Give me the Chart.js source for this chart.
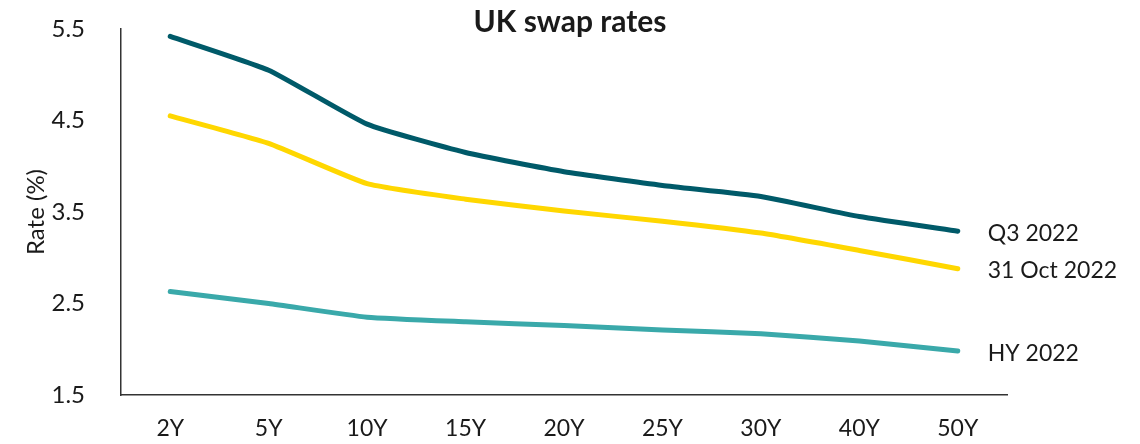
<!DOCTYPE html>
<html>
<head>
<meta charset="utf-8">
<script src="https://cdn.jsdelivr.net/npm/chart.js@4"></script>
<style>
  html, body { margin: 0; padding: 0; background: #fff; }
  #wrap { width: 1140px; height: 444px; }
</style>
</head>
<body>
<div id="wrap"><canvas id="swapChart" width="1140" height="444"></canvas></div>
<script>
// swap tenors and rates (%)
const tenors = ["2Y", "5Y", "10Y", "15Y", "20Y", "25Y", "30Y", "40Y", "50Y"];
const q3_2022 = [5.42, 5.05, 4.46, 4.15, 3.94, 3.79, 3.67, 3.45, 3.29];
const oct_2022 = [4.55, 4.25, 3.81, 3.64, 3.51, 3.40, 3.27, 3.08, 2.88];
const hy_2022 = [2.63, 2.50, 2.35, 2.30, 2.26, 2.21, 2.17, 2.09, 1.98];
const yTicks = [1.5, 2.5, 3.5, 4.5, 5.5];

const FONT = "Lato, 'Noto Sans', sans-serif";
const TEXT = "#1a1a1a";

// title in the middle of the canvas
const titlePlugin = {
  id: "swapTitle",
  afterDraw(chart) {
    const c = chart.ctx;
    c.save();
    c.font = "bold 30px " + FONT;
    c.fillStyle = TEXT;
    c.textAlign = "center";
    c.textBaseline = "alphabetic";
    c.fillText("UK swap rates", chart.width / 2, 32);
    c.restore();
  },
};

// series names next to the last point of each line
const endLabels = {
  id: "endLabels",
  afterDatasetsDraw(chart) {
    const c = chart.ctx;
    c.save();
    c.font = "23px " + FONT;
    c.fillStyle = TEXT;
    c.textAlign = "left";
    c.textBaseline = "middle";
    chart.data.datasets.forEach((ds, i) => {
      const pts = chart.getDatasetMeta(i).data;
      const last = pts[pts.length - 1];
      c.fillText(ds.label, last.x + 30, last.y + 2);
    });
    c.restore();
  },
};

function line(label, data, color) {
  return {
    label: label,
    data: data,
    borderColor: color,
    backgroundColor: color,
    borderWidth: 5,
    borderCapStyle: "round",
    borderJoinStyle: "round",
    pointRadius: 0,
    tension: 0.15,
    fill: false,
  };
}

const ctx = document.getElementById("swapChart").getContext("2d");
const swapChart = new Chart(ctx, {
  type: "line",
  data: {
    labels: tenors,
    datasets: [
      line("Q3 2022", q3_2022, "#005a69"),
      line("31 Oct 2022", oct_2022, "#ffd700"),
      line("HY 2022", hy_2022, "#3aa9aa"),
    ],
  },
  options: {
    responsive: false,
    animation: false,
    layout: { padding: { top: 29, right: 133, left: 0, bottom: 0 } },
    plugins: {
      legend: { display: false },
      tooltip: { enabled: false },
    },
    scales: {
      x: {
        offset: true,
        grid: { display: false },
        border: { display: true, color: "#333", width: 1.5 },
        ticks: { color: TEXT, font: { family: FONT, size: 23 }, padding: 12 },
        afterFit(scale) { scale.height = 49; },
      },
      y: {
        min: 1.5,
        max: 5.5,
        grid: { display: false },
        border: { display: true, color: "#333", width: 1.5 },
        afterBuildTicks(scale) { scale.ticks = yTicks.map(v => ({ value: v })); },
        ticks: {
          color: TEXT,
          font: { family: FONT, size: 24 },
          padding: 28,
          callback: v => v.toFixed(1),
        },
        title: {
          display: true,
          text: "Rate (%)",
          color: TEXT,
          font: { family: FONT, size: 24 },
          padding: { top: 22, bottom: 0 },
        },
        afterFit(scale) {
          scale.width = 121;
          scale.paddingTop = 0;
          scale.paddingBottom = 0;
        },
      },
    },
  },
  plugins: [titlePlugin, endLabels],
});
</script>
</body>
</html>
